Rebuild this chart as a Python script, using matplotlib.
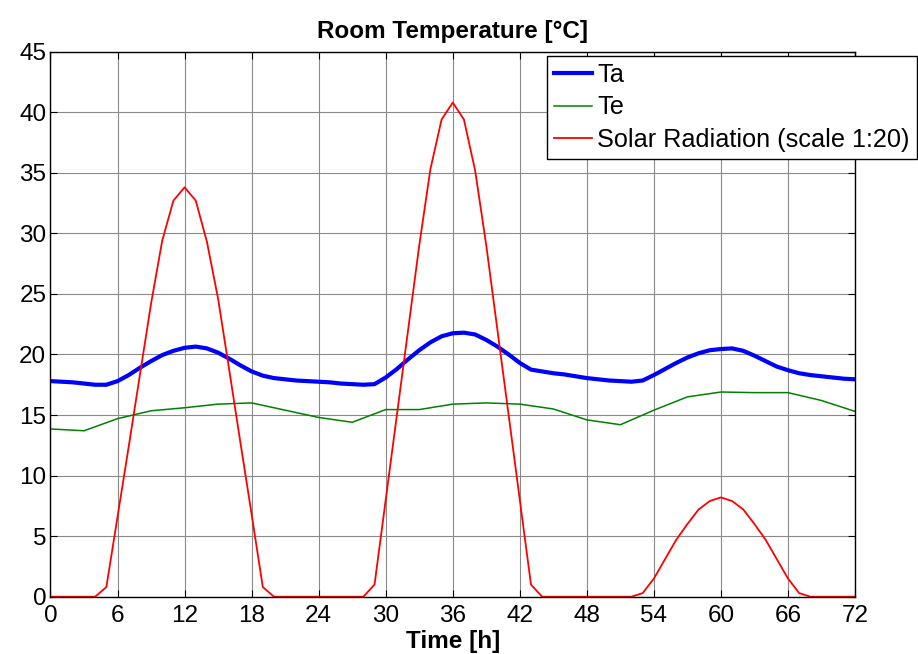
import numpy as np
import matplotlib
matplotlib.use("Agg")
import matplotlib.pyplot as plt

plt.rcParams['font.family'] = ['Liberation Sans', 'DejaVu Sans']

# hourly time axis for Ta and solar radiation
hours = np.arange(0, 73)

# room air temperature Ta [°C], hourly
ta = [17.8, 17.75, 17.7, 17.6, 17.5, 17.5, 17.8, 18.3, 18.9, 19.45, 19.95, 20.3,
      20.55, 20.65, 20.5, 20.15, 19.65, 19.1, 18.6, 18.25, 18.05, 17.95, 17.85, 17.8,
      17.75, 17.7, 17.6, 17.55, 17.5, 17.55, 18.1, 18.8, 19.6, 20.35, 21.0, 21.5,
      21.75, 21.8, 21.65, 21.2, 20.65, 20.0, 19.3, 18.75, 18.6, 18.45, 18.35, 18.2,
      18.05, 17.95, 17.85, 17.8, 17.75, 17.85, 18.3, 18.8, 19.3, 19.75, 20.1, 20.35,
      20.45, 20.5, 20.3, 19.9, 19.45, 19.0, 18.7, 18.45, 18.3, 18.2, 18.1, 18.0, 17.95]

# solar radiation (scale 1:20), hourly
solar = [0, 0, 0, 0, 0, 0.8, 6.6, 12.4, 18.3, 24.2, 29.4, 32.7,
         33.8, 32.7, 29.3, 24.6, 18.7, 12.7, 6.8, 0.8, 0, 0, 0, 0,
         0, 0, 0, 0, 0, 1.0, 8.0, 15.0, 22.0, 29.0, 35.3, 39.4,
         40.8, 39.4, 35.2, 29.0, 22.0, 15.0, 8.0, 1.0, 0, 0, 0, 0,
         0, 0, 0, 0, 0, 0.3, 1.5, 3.1, 4.7, 6.0, 7.2, 7.9,
         8.2, 7.9, 7.2, 6.0, 4.7, 3.1, 1.5, 0.3, 0, 0, 0, 0, 0]

# external temperature Te [°C], every 3 hours
te_hours = np.arange(0, 73, 3)
te = [13.85, 13.7, 14.7, 15.35, 15.6, 15.9, 16.0, 15.4, 14.8, 14.4, 15.45, 15.45,
      15.9, 16.0, 15.9, 15.5, 14.6, 14.2, 15.4, 16.5, 16.9, 16.85, 16.85, 16.2, 15.3]

fig = plt.figure(figsize=(9.18, 6.54), dpi=100)
ax = fig.add_axes([0.055, 0.0876, 0.8764, 0.8334])

ax.plot(hours, ta, color=(0, 0, 1), lw=3.0, label='Ta')
ax.plot(te_hours, te, color=(0, 0.5, 0), lw=1.1, label='Te')
ax.plot(hours, solar, color=(1, 0, 0), lw=1.3, label='Solar Radiation (scale 1:20)')

ax.set_xlim(0, 72)
ax.set_ylim(0, 45)
ax.set_xticks(np.arange(0, 73, 6))
ax.set_yticks(np.arange(0, 46, 5))
ax.grid(True, color='#8a8a8a', lw=0.8)
ax.tick_params(direction='in', length=5, top=True, right=True, labelsize=17.5)
ax.tick_params(axis='x', pad=6)
ax.tick_params(axis='y', pad=3)
for s in ax.spines.values():
    s.set_linewidth(1.0)

ax.set_title('Room Temperature [°C]', fontsize=17.5, fontweight='bold', pad=10)
ax.set_xlabel('Time [h]', fontsize=17.5, fontweight='bold', labelpad=2)

leg = fig.legend(loc='upper right', bbox_to_anchor=(917 / 918, 1 - 56 / 654),
                 fontsize=18.2, frameon=True, fancybox=False, handlelength=1.5,
                 handletextpad=0.2, borderpad=0.28, labelspacing=0.33, borderaxespad=0)
leg.get_frame().set_edgecolor('black')
leg.get_frame().set_linewidth(1.0)
leg.get_frame().set_alpha(1)

fig.savefig('out.png', dpi=100)
